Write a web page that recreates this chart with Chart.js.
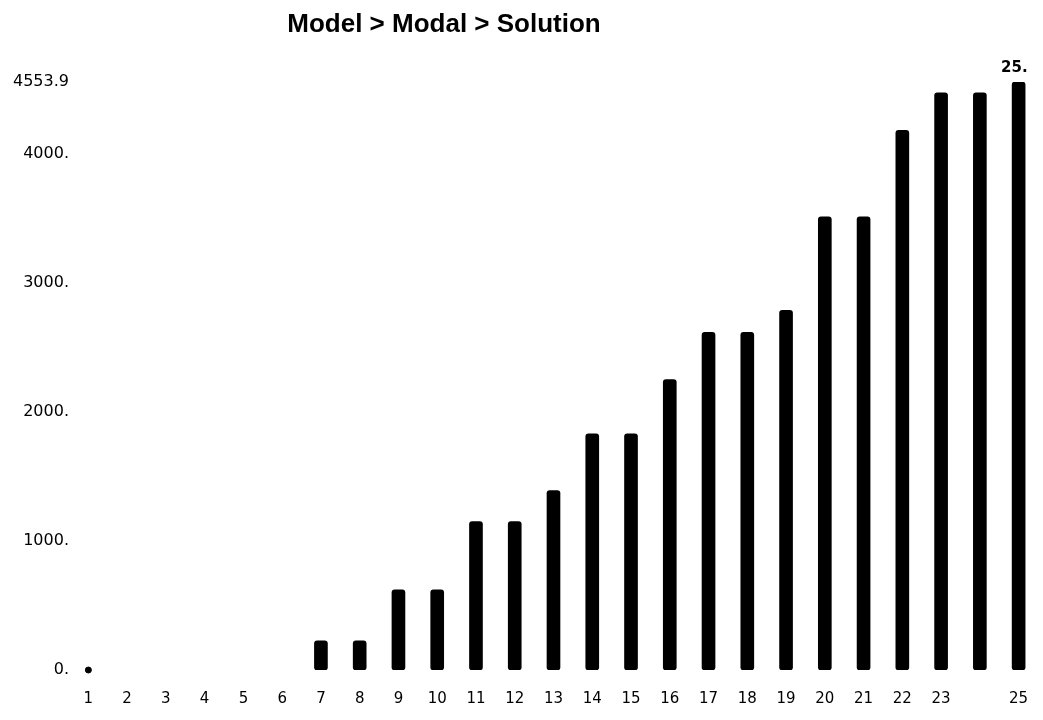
<!DOCTYPE html>
<html>
<head>
<meta charset="utf-8">
<script src="https://cdn.jsdelivr.net/npm/chart.js@4/dist/chart.umd.min.js"></script>
<style>
html, body { margin: 0; padding: 0; background: #fff; }
</style>
</head>
<body>
<canvas id="myChart" width="1043" height="720"></canvas>
<script>
// datos
const categories = ['1', '2', '3', '4', '5', '6', '7', '8', '9', '10', '11', '12', '13',
                    '14', '15', '16', '17', '18', '19', '20', '21', '22', '23', '24', '25'];
const values = [0, 0, 0, 0, 0, 0, 225, 225, 620, 620, 1150, 1150, 1390,
                1830, 1830, 2250, 2615, 2615, 2785, 3510, 3510, 4180, 4470, 4470, 4553.9];
const markers = [0, null, null, null, null, null, null, null, null, null, null, null, null,
                 null, null, null, null, null, null, null, null, null, null, null, null];
const yTicks = [0, 1000, 2000, 3000, 4000, 4553.9];
const yTickLabels = ['0.', '1000.', '2000.', '3000.', '4000.', '4553.9'];
const hiddenXLabels = ['24'];
const chartTitle = 'Model > Modal > Solution';
const lastBarLabel = '25.';

const ctx = document.getElementById('myChart').getContext('2d');

// titulo dibujado a mano (no esta centrado en el lienzo)
const tituloPlugin = {
    id: 'titulo',
    afterDraw(chart){
        const c = chart.ctx;
        c.save();
        c.fillStyle = '#000';
        c.font = 'bold 26px "Liberation Sans", Arial, sans-serif';
        c.textAlign = 'center';
        c.textBaseline = 'alphabetic';
        c.fillText(chartTitle, 444, 32);
        c.restore();
    }
};

// etiqueta encima de la ultima barra
const etiquetaPlugin = {
    id: 'etiqueta',
    afterDatasetsDraw(chart){
        const meta = chart.getDatasetMeta(0);
        const bar = meta.data[meta.data.length - 1];
        const c = chart.ctx;
        c.save();
        c.fillStyle = '#000';
        c.font = 'bold 15px "DejaVu Sans", sans-serif';
        c.textAlign = 'right';
        c.textBaseline = 'alphabetic';
        c.fillText(lastBarLabel, bar.x + 9, bar.y - 10);
        c.restore();
    }
};

const grafico = new Chart(ctx, {
    data: {
        labels: categories,
        datasets: [{
            type: 'bar',
            data: values,
            // las barras en cero no se ven
            backgroundColor: (c) => c.raw ? '#000' : 'rgba(0,0,0,0)',
            borderRadius: 3,
            borderSkipped: false,
            barThickness: 13
        }, {
            type: 'line',
            data: markers,
            showLine: false,
            clip: false,
            pointRadius: 3,
            pointBackgroundColor: '#000',
            pointBorderColor: '#000'
        }]
    },
    options: {
        responsive: false,
        animation: false,
        layout: { padding: { left: 13, right: 0.5, top: 82, bottom: 12 } },
        plugins: {
            legend: { display: false },
            tooltip: { enabled: false },
            title: { display: false }
        },
        scales: {
            x: {
                offset: true,
                // marcas invisibles para bajar las etiquetas
                grid: { display: true, drawOnChartArea: false, drawTicks: true, tickLength: 20, color: 'rgba(0,0,0,0)' },
                border: { display: false },
                ticks: {
                    autoSkip: false,
                    maxRotation: 0,
                    padding: 0,
                    color: '#000',
                    font: { family: '"DejaVu Sans", sans-serif', size: 15 },
                    callback: function(v){
                        const l = this.getLabelForValue(v);
                        return hiddenXLabels.includes(l) ? '' : l;
                    }
                }
            },
            y: {
                min: 0,
                max: 4553.9,
                grid: { display: false, drawTicks: false },
                border: { display: false },
                afterBuildTicks: (scale) => {
                    scale.ticks = yTicks.map(v => ({ value: v }));
                },
                ticks: {
                    padding: 0,
                    color: '#000',
                    font: { family: '"DejaVu Sans", sans-serif', size: 16 },
                    callback: (v) => yTickLabels[yTicks.indexOf(v)]
                }
            }
        }
    },
    plugins: [tituloPlugin, etiquetaPlugin]
});
</script>
</body>
</html>
